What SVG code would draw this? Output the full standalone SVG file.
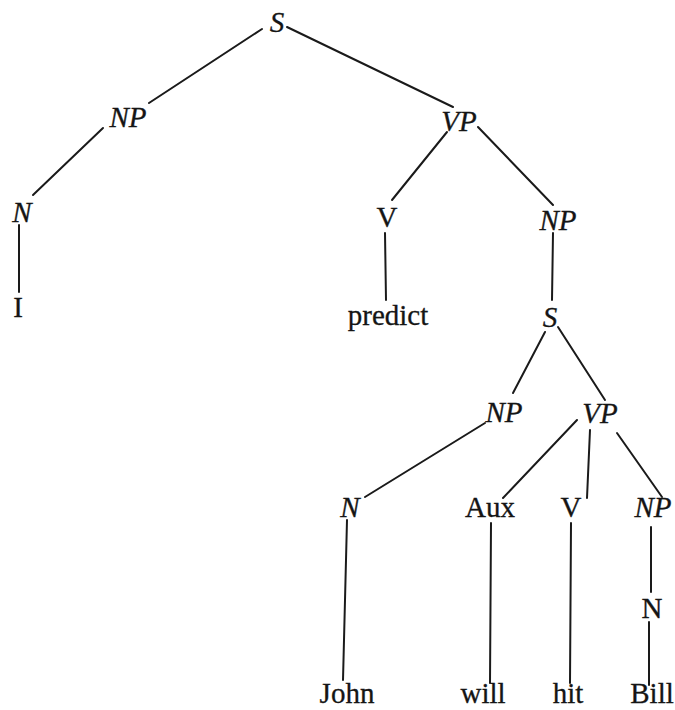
<svg xmlns="http://www.w3.org/2000/svg" width="675" height="710" viewBox="0 0 675 710">
<style>
text{font-family:"Liberation Serif","DejaVu Serif",serif;font-size:29px;fill:#151515;stroke:#151515;stroke-width:0.3;text-anchor:middle}
.i{font-style:italic}
#edges line{stroke:#1a1a1a;stroke-width:2;stroke-linecap:round}
</style>
<rect width="675" height="710" fill="#ffffff"/>
<g id="edges">
<line x1="262" y1="29" x2="149" y2="103"/>
<line x1="287" y1="27" x2="453" y2="107"/>
<line x1="103" y1="128" x2="33" y2="195"/>
<line x1="19" y1="225" x2="19" y2="292"/>
<line x1="447" y1="132" x2="392" y2="200"/>
<line x1="478" y1="127" x2="553" y2="205"/>
<line x1="385" y1="233" x2="386" y2="300"/>
<line x1="553" y1="233" x2="552" y2="300"/>
<line x1="545" y1="332" x2="513" y2="393"/>
<line x1="558" y1="327" x2="605" y2="400"/>
<line x1="485" y1="423" x2="365" y2="497"/>
<line x1="577" y1="420" x2="503" y2="498"/>
<line x1="590" y1="430" x2="587" y2="498"/>
<line x1="617" y1="433" x2="662" y2="497"/>
<line x1="347" y1="520" x2="343" y2="680"/>
<line x1="491" y1="523" x2="490" y2="683"/>
<line x1="571" y1="523" x2="570" y2="683"/>
<line x1="651" y1="527" x2="651" y2="592"/>
<line x1="649" y1="622" x2="649" y2="685"/>
</g>
<g id="S1"><text class="i" x="277" y="32">S</text></g>
<g id="NP1"><text class="i" x="128" y="127">NP</text></g>
<g id="N1"><text class="i" x="22" y="222">N</text></g>
<g id="I"><text x="18" y="317">I</text></g>
<g id="VP1"><text class="i" x="459" y="131">VP</text></g>
<g id="V1"><text x="387" y="227">V</text></g>
<g id="predict"><text x="388" y="325">predict</text></g>
<g id="NP2"><text class="i" x="558" y="230">NP</text></g>
<g id="S2"><text class="i" x="550" y="327">S</text></g>
<g id="NP3"><text class="i" x="504" y="422">NP</text></g>
<g id="VP2"><text class="i" x="600" y="423">VP</text></g>
<g id="N2"><text class="i" x="350" y="517">N</text></g>
<g id="Aux"><text x="490" y="517">Aux</text></g>
<g id="V2"><text x="571" y="517">V</text></g>
<g id="NP4"><text class="i" x="653" y="517">NP</text></g>
<g id="N3"><text x="652" y="618">N</text></g>
<g id="John"><text x="347" y="703">John</text></g>
<g id="will"><text x="483" y="703">will</text></g>
<g id="hit"><text x="568" y="703">hit</text></g>
<g id="Bill"><text x="652" y="703">Bill</text></g>
</svg>
